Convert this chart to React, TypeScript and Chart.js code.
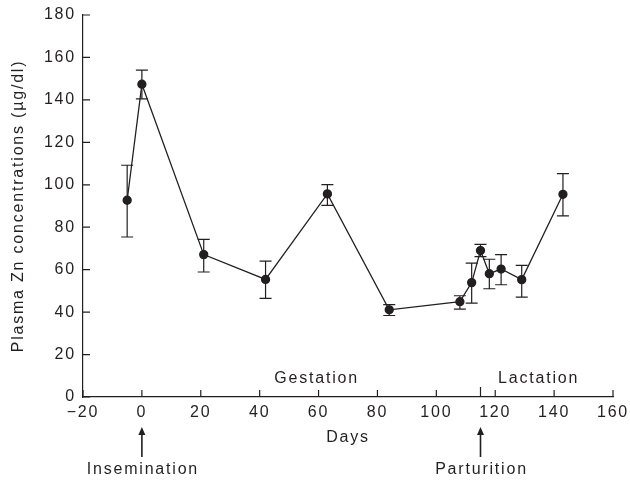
import React, { useEffect, useRef } from "react";
import { Chart, registerables } from "chart.js";

Chart.register(...registerables);

// ---- data ----
const days = [-5, 0, 21, 42, 63, 84, 108, 112, 115, 118, 122, 129, 143];
const zinc = [92.7, 147.4, 67.1, 55.4, 95.7, 41.1, 44.9, 53.9, 69.0, 58.1, 60.3, 55.3, 95.5];
const upper = [109.2, 154.0, 74.3, 64.0, 100.1, 43.5, 47.7, 63.1, 71.9, 64.9, 67.1, 62.0, 105.3];
const lower = [75.4, 140.5, 58.9, 46.5, 90.3, 38.4, 41.4, 44.2, 66.1, 51.0, 52.9, 47.1, 85.3];

const phaseLabels = ["Gestation", "Lactation"];
const phaseDays = [59, 134.4];
const phaseLevel = 8.8;

const eventLabels = ["Insemination", "Parturition"];
const eventDays = [0, 115];

const xTitle = "Days";
const yTitle = "Plasma Zn concentrations (\u00b5g/dl)";

const INK = "#231f20";
const FONT = "'Liberation Sans', Arial, Helvetica, sans-serif";
const SIZE = 16;
const SPACING = "1.8px";

const spacing = {
  id: "spacing",
  beforeUpdate(chart: any) {
    chart.ctx.letterSpacing = SPACING;
  },
  beforeLayout(chart: any) {
    chart.ctx.letterSpacing = SPACING;
  },
  beforeDraw(chart: any) {
    chart.ctx.letterSpacing = SPACING;
  },
};

const overlay = {
  id: "overlay",
  beforeDatasetsDraw(chart: any) {
    const { ctx, scales } = chart;
    const x = scales.x;
    const y = scales.y;
    ctx.save();
    ctx.strokeStyle = INK;
    ctx.lineWidth = 1.2;
    days.forEach((d, i) => {
      const px = x.getPixelForValue(d);
      const pu = y.getPixelForValue(upper[i]);
      const pl = y.getPixelForValue(lower[i]);
      ctx.beginPath();
      ctx.moveTo(px, pu);
      ctx.lineTo(px, pl);
      ctx.moveTo(px - 6, pu);
      ctx.lineTo(px + 6, pu);
      ctx.moveTo(px - 6, pl);
      ctx.lineTo(px + 6, pl);
      ctx.stroke();
    });
    ctx.restore();
  },
  afterDraw(chart: any) {
    const { ctx, scales } = chart;
    const x = scales.x;
    const y = scales.y;
    const bottom = y.getPixelForValue(0);
    const left = x.getPixelForValue(-20);
    ctx.save();
    ctx.strokeStyle = INK;
    ctx.fillStyle = INK;
    ctx.lineWidth = 1.2;
    // inward ticks
    ctx.beginPath();
    x.ticks.forEach((t: any) => {
      const px = x.getPixelForValue(t.value);
      ctx.moveTo(px, bottom);
      ctx.lineTo(px, bottom - 7);
    });
    y.ticks.forEach((t: any) => {
      const py = y.getPixelForValue(t.value);
      ctx.moveTo(left, py);
      ctx.lineTo(left + 7, py);
    });
    // event ticks
    eventDays.forEach((d) => {
      if (d % 20 !== 0) {
        const px = x.getPixelForValue(d);
        ctx.moveTo(px, bottom);
        ctx.lineTo(px, bottom - 10);
      }
    });
    ctx.stroke();

    ctx.letterSpacing = SPACING;
    ctx.font = `${SIZE}px ${FONT}`;
    ctx.textBaseline = "middle";
    ctx.textAlign = "center";
    phaseLabels.forEach((lab, i) => {
      ctx.fillText(lab, x.getPixelForValue(phaseDays[i]) + 1, y.getPixelForValue(phaseLevel));
    });

    // arrows + event labels
    eventLabels.forEach((lab, i) => {
      const px = x.getPixelForValue(eventDays[i]);
      const tip = bottom + 30;
      ctx.lineWidth = 1.6;
      ctx.beginPath();
      ctx.moveTo(px, tip + 6);
      ctx.lineTo(px, tip + 30);
      ctx.stroke();
      ctx.beginPath();
      ctx.moveTo(px, tip);
      ctx.lineTo(px - 3.5, tip + 8);
      ctx.lineTo(px + 3.5, tip + 8);
      ctx.closePath();
      ctx.fill();
      ctx.fillText(lab, px + 1, bottom + 73);
    });
    ctx.restore();
  },
};

export default function App() {
  const ref = useRef<HTMLCanvasElement | null>(null);
  useEffect(() => {
    if (!ref.current) return;
    const chart = new Chart(ref.current, {
      type: "line",
      data: {
        datasets: [
          {
            data: days.map((d, i) => ({ x: d, y: zinc[i] })),
            borderColor: INK,
            backgroundColor: INK,
            borderWidth: 1.3,
            pointRadius: 4,
            pointBackgroundColor: INK,
            pointBorderColor: INK,
            tension: 0,
            fill: false,
          },
        ],
      },
      options: {
        responsive: false,
        animation: false,
        layout: { padding: { top: 15, right: 17, left: 0, bottom: 0 } },
        plugins: { legend: { display: false }, tooltip: { enabled: false } },
        scales: {
          x: {
            type: "linear",
            min: -20,
            max: 160,
            grid: { display: false, drawTicks: false },
            border: { display: true, color: INK, width: 1.2 },
            ticks: {
              stepSize: 20,
              padding: 6,
              color: INK,
              font: { family: FONT, size: SIZE },
              maxRotation: 0,
              callback: (v: any) => String(v).replace("-", "\u2212"),
            },
            title: {
              display: true,
              text: xTitle,
              color: INK,
              font: { family: FONT, size: SIZE },
              padding: { top: 0, bottom: 37 },
            },
            afterFit: (s: any) => {
              s.height = 87;
              s.paddingLeft = 0;
              s.paddingRight = 0;
            },
          },
          y: {
            type: "linear",
            min: 0,
            max: 180,
            grid: { display: false, drawTicks: false },
            border: { display: true, color: INK, width: 1.2 },
            ticks: {
              stepSize: 20,
              padding: 7,
              color: INK,
              font: { family: FONT, size: SIZE },
            },
            title: {
              display: true,
              text: yTitle,
              color: INK,
              font: { family: FONT, size: SIZE },
              padding: { top: 9, bottom: 0 },
            },
            afterFit: (s: any) => {
              s.width = 83;
              s.paddingTop = 0;
              s.paddingBottom = 0;
            },
          },
        },
      },
      plugins: [spacing, overlay],
    });
    return () => chart.destroy();
  }, []);
  return (
    <div style={{ position: "absolute", left: 0, top: 0, width: 630, height: 484, background: "#fff" }}>
      <canvas ref={ref} width={630} height={484} />
    </div>
  );
}
